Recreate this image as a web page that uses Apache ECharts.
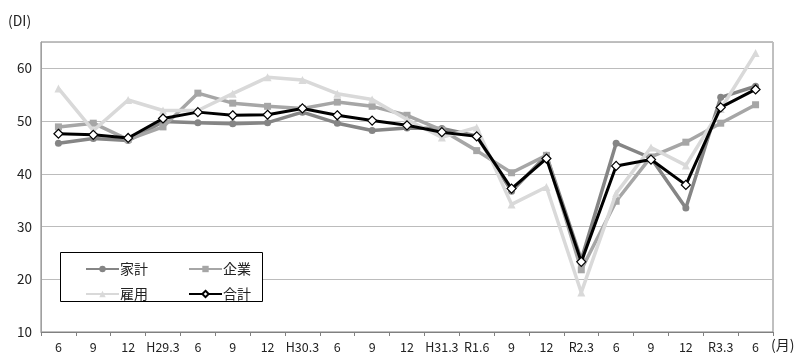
<!DOCTYPE html>
<html><head><meta charset="utf-8">
<script src="https://cdn.jsdelivr.net/npm/echarts@6/dist/echarts.min.js"></script>
<style>html,body{margin:0;padding:0;background:#fff}#c{width:800px;height:363px}</style>
</head><body><div id="c"></div>
<script>
const categories = ['6','9','12','H29.3','6','9','12','H30.3','6','9','12','H31.3','R1.6','9','12','R2.3','6','9','12','R3.3','6'];
const kakei   = [45.8,46.7,46.3,49.9,49.7,49.5,49.7,51.7,49.6,48.2,48.7,48.6,47.2,36.7,43.5,23.7,45.8,43.0,33.5,54.5,56.6];
const kigyo   = [48.9,49.6,46.5,48.9,55.3,53.4,52.8,52.4,53.6,52.8,51.1,48.3,44.4,40.2,43.5,21.8,34.8,43.2,46.0,49.6,53.1];
const koyo    = [56.2,48.2,54.0,52.0,52.0,55.2,58.3,57.8,55.2,54.1,50.3,46.9,48.8,34.2,37.5,17.5,36.3,45.0,41.6,52.3,62.9];
const goukei  = [47.6,47.4,46.8,50.5,51.7,51.1,51.2,52.4,51.1,50.1,49.2,47.9,47.1,37.2,42.9,23.3,41.5,42.7,37.9,52.6,56.0];
const seriesNames = ['家計','企業','雇用','合計'];
const yTicks = [10,20,30,40,50,60];

const FONT = '"Noto Sans CJK JP", "Noto Sans", sans-serif';
const chart = echarts.init(document.getElementById('c'), null, {renderer:'canvas'});
function lineSeries(name, data, color, symbol, size, width, fill, z){
  return {name, type:'line', data, symbol, symbolSize:size, z,
    lineStyle:{color, width}, itemStyle:{color:fill||color, borderColor:color, borderWidth: fill?1.2:0},
    emphasis:{disabled:true}, animation:false};
}
chart.setOption({
  animation:false,
  textStyle:{fontFamily:FONT},
  grid:{left:41,right:27,top:42,bottom:31,show:true,borderColor:'#808080',borderWidth:1,backgroundColor:'transparent'},
  xAxis:{type:'category',data:categories,boundaryGap:true,
    axisLine:{lineStyle:{color:'#808080',width:1}},
    axisTick:{show:true,length:4,lineStyle:{color:'#808080'}},
    axisLabel:{color:'#222',fontSize:12.5,fontFamily:FONT,margin:9,interval:0},
    splitLine:{show:false}},
  yAxis:{type:'value',min:10,max:65,interval:10,
    axisLine:{show:true,lineStyle:{color:'#a0a0a0'}},
    axisTick:{show:false},
    axisLabel:{color:'#222',fontSize:13.5,fontFamily:FONT,margin:9,
      formatter:v=> yTicks.includes(v)?String(v):''},
    splitLine:{lineStyle:{color:'#bcbcbc',width:1}}},
  graphic:[
    {type:'rect',shape:{x:60.5,y:252.5,width:202,height:49},style:{fill:'#fff',stroke:'#000',lineWidth:1},z:50},
    {type:'text',left:8,top:14,style:{text:'(DI)',fontSize:14,fill:'#222',fontFamily:FONT},z:50},
    {type:'text',left:771,top:338,style:{text:'(月)',fontSize:14,fill:'#222',fontFamily:FONT},z:50}
  ],
  legend:[
    {data:['家計','企業'],left:80,top:257,itemWidth:33,itemHeight:8,itemGap:40,z:60,
      textStyle:{fontSize:14,color:'#222',fontFamily:FONT,padding:[0,0,0,-4]}},
    {data:['雇用','合計'],left:80,top:282,itemWidth:33,itemHeight:8,itemGap:40,z:60,
      textStyle:{fontSize:14,color:'#222',fontFamily:FONT,padding:[0,0,0,-4]}}
  ],
  series:[
    lineSeries('家計',kakei,'#858585','circle',7,3.5,null,2),
    lineSeries('企業',kigyo,'#a6a6a6','rect',7,3.5,null,3),
    lineSeries('雇用',koyo,'#d9d9d9','triangle',8,3.5,null,4),
    lineSeries('合計',goukei,'#000000','diamond',9,3,'#ffffff',5)
  ]
});
</script></body></html>
